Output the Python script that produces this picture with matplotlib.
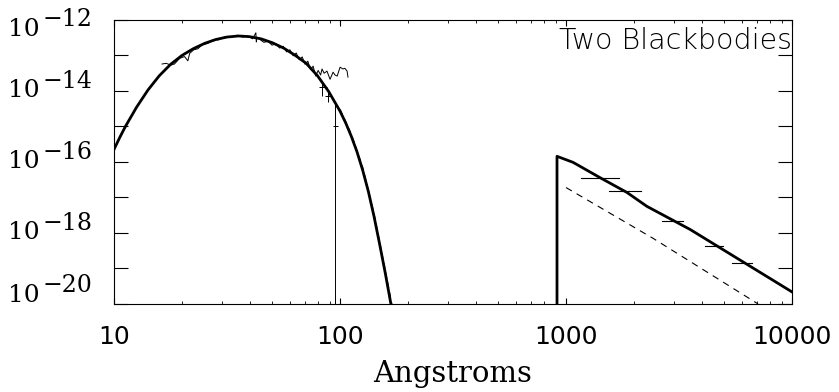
import numpy as np
import matplotlib
matplotlib.use('Agg')
import matplotlib.pyplot as plt
from matplotlib.ticker import NullFormatter, FixedLocator, LogLocator

# hot component model (wavelength in Angstroms, log10 flux)
hot_wave = [10, 10.59, 11.22, 12.59, 14.13, 15.85, 17.78, 19.95, 22.39, 25.12,
            28.18, 31.62, 35.48, 39.81, 44.67, 50.12, 56.23, 63.10, 70.79,
            79.43, 89.13, 100, 105.9, 112.2, 118.9, 125.9, 133.4, 141.3,
            149.6, 158.5, 168.3]
hot_logf = [-15.64, -15.31, -15.00, -14.45, -13.97, -13.57, -13.25, -13.00,
            -12.81, -12.66, -12.55, -12.48, -12.45, -12.47, -12.53, -12.64,
            -12.79, -12.99, -13.22, -13.57, -14.02, -14.57, -14.90, -15.28,
            -15.72, -16.23, -16.83, -17.53, -18.31, -19.13, -20.04]

# dashed version of the hot component
hot_dash_wave = [100, 112.2, 125.9, 141.3, 158.5, 170]
hot_dash_logf = [-14.52, -15.22, -16.15, -17.45, -19.05, -20.05]

# cool component (starts at the Lyman edge)
cool_wave = [912, 912, 1074, 1413, 1862, 2280, 3540, 10000]
cool_logf = [-21.0, -15.84, -16.01, -16.44, -16.86, -17.25, -17.90, -19.66]

cool_dash_wave = [1000, 2427, 7080]
cool_dash_logf = [-16.72, -18.15, -20.0]

# observed spectrum
spec_wave = [16.3, 17.0, 17.8, 18.5, 19.5, 20.5, 21.2, 21.6, 22.5, 23.5, 24.5,
             26, 27.5, 29, 31, 33, 35, 37, 39, 41, 42.4, 42.6, 42.8, 44, 46,
             48, 50, 52, 54, 56, 58, 60, 62, 64, 66, 68, 70, 72, 74, 76, 78,
             80, 82, 83.2, 85, 87.5, 90.3, 93.1, 95, 97.1, 100, 103, 105,
             107.4, 108.4]
spec_logf = [-13.24, -13.22, -13.27, -13.24, -13.08, -13.03, -13.15, -12.94,
             -12.84, -12.81, -12.70, -12.66, -12.55, -12.56, -12.47, -12.49,
             -12.43, -12.48, -12.45, -12.53, -12.36, -12.62, -12.50, -12.54,
             -12.63, -12.60, -12.71, -12.67, -12.79, -12.74, -12.90, -12.84,
             -13.01, -12.93, -13.12, -13.04, -13.25, -13.16, -13.40, -13.30,
             -13.58, -13.42, -13.55, -13.38, -13.50, -13.44, -13.67, -13.47,
             -13.55, -13.58, -13.33, -13.38, -13.36, -13.44, -13.61]

# binned points with error bars
pt_wave = [83.2, 88.5, 95.0]
pt_logf = [-13.89, -14.15, -14.99]
pt_wlo = [80.7, 86.0, 93.1]
pt_whi = [87.7, 91.2, 97.9]
pt_flo = [-14.15, -14.32, -21.0]
pt_fhi = [-13.75, -14.00, -14.32]

# photometry bins
phot_wlo = [1164, 1549, 2661, 4120, 5435]
phot_whi = [1718, 2148, 3296, 4955, 6652]
phot_logf = [-16.44, -16.83, -17.65, -18.36, -18.84]

y_label_exps = [-12, -14, -16, -18, -20]

fig = plt.figure(figsize=(8.39, 3.92), dpi=100)
ax = fig.add_axes([0.136, 0.2245, 0.808, 0.7245])
ax.set_xscale('log')
ax.set_yscale('log')

ax.plot(spec_wave, 10 ** np.array(spec_logf), color='black', lw=0.7)
ax.plot(hot_dash_wave, 10 ** np.array(hot_dash_logf), color='black', lw=0.8, ls=(0, (5, 4)))
ax.plot(hot_wave, 10 ** np.array(hot_logf), color='black', lw=2.0,
        solid_joinstyle='round')
ax.plot(cool_wave, 10 ** np.array(cool_logf), color='black', lw=2.0)
ax.plot(cool_dash_wave, 10 ** np.array(cool_dash_logf), color='black', lw=0.8,
        ls=(0, (6, 5)))

pw = np.array(pt_wave)
pf = 10 ** np.array(pt_logf)
ax.errorbar(pw, pf,
            xerr=[pw - np.array(pt_wlo), np.array(pt_whi) - pw],
            yerr=[pf - 10 ** np.array(pt_flo), 10 ** np.array(pt_fhi) - pf],
            fmt='none', ecolor='black', elinewidth=0.7, capsize=0)

for lo, hi, f in zip(phot_wlo, phot_whi, phot_logf):
    ax.plot([lo, hi], [10 ** f, 10 ** f], color='black', lw=0.8)

ax.set_xlim(10, 10000)
ax.set_ylim(1e-20, 1e-12)

ax.yaxis.set_major_locator(FixedLocator([10.0 ** e for e in range(-20, -11)]))
ax.yaxis.set_minor_locator(FixedLocator([]))
ax.yaxis.set_major_formatter(NullFormatter())
ax.tick_params(axis='y', which='major', direction='in', length=10, width=0.8,
               left=True, right=True)
ax.xaxis.set_major_locator(LogLocator(base=10))
ax.xaxis.set_minor_locator(LogLocator(base=10, subs=np.arange(2, 10)))
ax.tick_params(axis='x', which='major', direction='in', length=4, width=0.8,
               top=True, bottom=True, pad=15, labelsize=18)
ax.tick_params(axis='x', which='minor', direction='in', length=2.5, width=0.6,
               top=True, bottom=True)
ax.set_xticks([10, 100, 1000, 10000])
ax.set_xticklabels(['10', '100', '1000', '10000'])
for spine in ax.spines.values():
    spine.set_linewidth(0.8)

# y labels drawn as "10" with raised exponent, kept inside the axis range
trans = matplotlib.transforms.blended_transform_factory(fig.transFigure, ax.transData)
for e in y_label_exps:
    base = e
    if e == -12:
        base = e - 0.28
    if e == -20:
        base = e + 0.25
    ax.text(0.010, 10.0 ** base, '10', transform=trans, fontsize=18,
            family='DejaVu Serif', va='center', ha='left')
    ax.text(0.051, 10.0 ** (base + 0.28), '\u2212' + str(-e), transform=trans,
            fontsize=17, family='DejaVu Serif', va='center', ha='left')

ax.set_xlabel('Angstroms', family='DejaVu Serif', fontsize=21, labelpad=8)
ax.text(1.0, 0.897, 'Two Blackbodies', transform=ax.transAxes, ha='right',
        va='baseline', fontsize=20.5, fontweight='light')

fig.savefig('out.png', dpi=100)
